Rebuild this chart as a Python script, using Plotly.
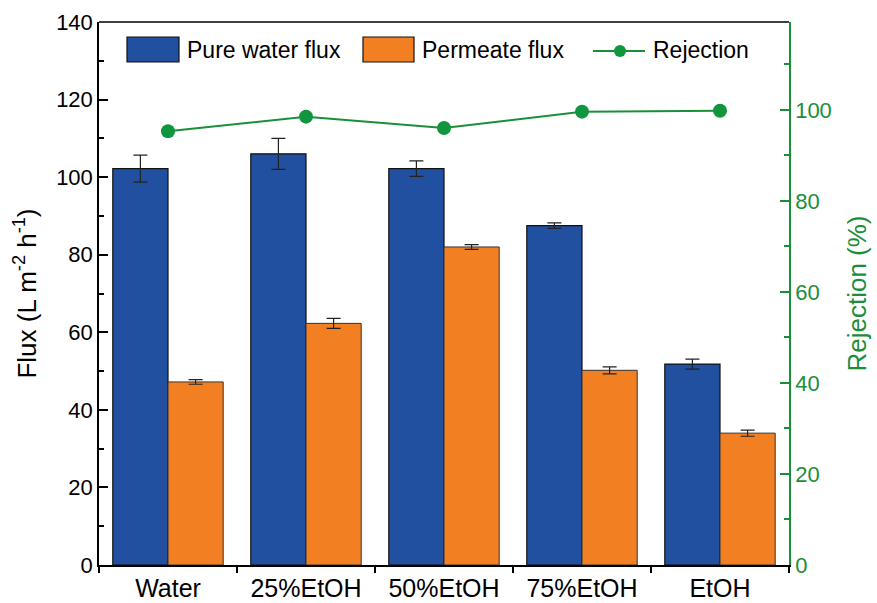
import plotly.graph_objects as go

# Solvent feeds
categories = ["Water", "25%EtOH", "50%EtOH", "75%EtOH", "EtOH"]

# Flux values (L m^-2 h^-1) with standard deviations
pure_water_flux = [102.2, 106.0, 102.2, 87.5, 51.8]
pure_water_err = [3.5, 4.0, 2.0, 0.7, 1.3]
permeate_flux = [47.2, 62.3, 82.0, 50.2, 34.0]
permeate_err = [0.6, 1.3, 0.6, 0.9, 0.8]

# Rejection (%)
rejection = [95.3, 98.5, 96.0, 99.6, 99.8]

# Axis tick values
flux_ticks = [0, 20, 40, 60, 80, 100, 120, 140]
rej_ticks = [0, 20, 40, 60, 80, 100]

BLUE = "#2150A0"
ORANGE = "#F28022"
GREEN = "#1B8E3A"
DOT = "#11963F"
FONT = "Liberation Sans, Arial, sans-serif"

W, H = 877, 603
ML, MR, MT, MB = 99, 88, 22, 38

fig = go.Figure()

fig.add_trace(go.Bar(
    x=categories, y=pure_water_flux, name="Pure water flux",
    marker=dict(color=BLUE, line=dict(color="#111111", width=1.2)),
    error_y=dict(type="data", array=pure_water_err, color="#222222",
                 thickness=1.2, width=7),
    yaxis="y",
))
fig.add_trace(go.Bar(
    x=categories, y=permeate_flux, name="Permeate flux",
    marker=dict(color=ORANGE, line=dict(color="#333333", width=1.0)),
    error_y=dict(type="data", array=permeate_err, color="#222222",
                 thickness=1.2, width=7),
    yaxis="y",
))
fig.add_trace(go.Scatter(
    x=categories, y=rejection, name="Rejection", mode="lines+markers",
    line=dict(color=GREEN, width=2),
    marker=dict(color=DOT, size=14),
    yaxis="y2",
))

fig.update_layout(
    width=W, height=H,
    margin=dict(l=ML, r=MR, t=MT, b=MB, autoexpand=False),
    paper_bgcolor="white", plot_bgcolor="white",
    font=dict(family=FONT, size=22, color="black"),
    barmode="group", bargap=0.2, bargroupgap=0,
    showlegend=False,
    xaxis=dict(
        type="category", tickson="boundaries", automargin=False,
        ticks="outside", ticklen=6, tickwidth=1.5, tickcolor="black",
        showline=True, linecolor="black", linewidth=1.5,
        tickfont=dict(family=FONT, size=25),
        showgrid=False, zeroline=False,
    ),
    yaxis=dict(
        range=[0, 140], tickvals=flux_ticks, automargin=False,
        ticks="inside", ticklen=9, tickwidth=1.5, tickcolor="black",
        minor=dict(dtick=10, ticks="inside", ticklen=5, tickwidth=1.5, tickcolor="black"),
        showline=True, linecolor="black", linewidth=1.5,
        showgrid=False, zeroline=False,
        tickfont=dict(family=FONT, size=22),
        title=dict(text="Flux (L m<sup>-2</sup> h<sup>-1</sup>)",
                   font=dict(family=FONT, size=26), standoff=12),
    ),
    yaxis2=dict(
        overlaying="y", side="right", range=[0, 119.3], tickvals=rej_ticks,
        automargin=False,
        ticks="inside", ticklen=9, tickwidth=1.5, tickcolor=GREEN,
        minor=dict(dtick=10, ticks="inside", ticklen=5, tickwidth=1.5, tickcolor=GREEN),
        showline=True, linecolor=GREEN, linewidth=1.5,
        showgrid=False, zeroline=False,
        tickfont=dict(family=FONT, size=22, color=GREEN),
        title=dict(text="Rejection (%)", font=dict(family=FONT, size=26, color=GREEN),
                   standoff=17),
    ),
)

# Top frame line
fig.add_shape(type="line", xref="paper", yref="paper", x0=0, x1=1, y0=1, y1=1,
              line=dict(color="black", width=1.5))

# Legend drawn in pixel space, converted to paper coordinates
pw, ph = W - ML - MR, H - MT - MB


def px(x):
    return (x - ML) / pw


def py(y):
    return 1 - (y - MT) / ph


legend_font = dict(family=FONT, size=23, color="black")
swatches = [(127, 179, BLUE, "Pure water flux"), (363, 414, ORANGE, "Permeate flux")]
for x0, x1, color, label in swatches:
    fig.add_shape(type="rect", xref="paper", yref="paper",
                  x0=px(x0), x1=px(x1), y0=py(62), y1=py(37),
                  fillcolor=color, line=dict(color="#111111", width=1.2))
    fig.add_annotation(xref="paper", yref="paper", x=px(x1 + 6), y=py(49.5),
                       text=label, showarrow=False, xanchor="left", yanchor="middle",
                       font=legend_font)

fig.add_shape(type="line", xref="paper", yref="paper",
              x0=px(593), x1=px(645), y0=py(51), y1=py(51),
              line=dict(color=GREEN, width=2))
fig.add_shape(type="circle", xref="paper", yref="paper",
              x0=px(614), x1=px(626), y0=py(57), y1=py(45),
              fillcolor=DOT, line=dict(color=DOT, width=0))
fig.add_annotation(xref="paper", yref="paper", x=px(651), y=py(49.5),
                   text="Rejection", showarrow=False, xanchor="left", yanchor="middle",
                   font=legend_font)

fig.write_html("out.html")
